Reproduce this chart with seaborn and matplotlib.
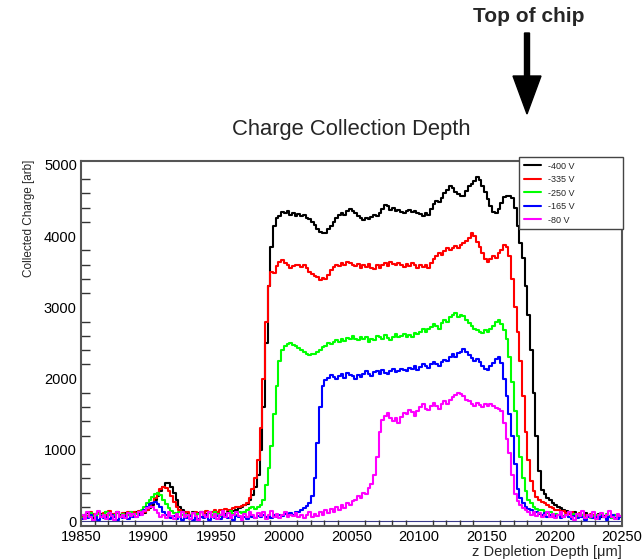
import numpy as np
import pandas as pd
import matplotlib
matplotlib.use("Agg")
import matplotlib.pyplot as plt
from matplotlib.patches import FancyArrow
from matplotlib.transforms import IdentityTransform
from matplotlib.ticker import MultipleLocator
import seaborn as sns

# Histogram binning: 2 um bins from 19850 to 20250 um
bin_width = 2
z_range = (19850, 20250)
bin_centers = np.arange(z_range[0], z_range[1], bin_width) + bin_width / 2

voltages = ["-400 V", "-335 V", "-250 V", "-165 V", "-80 V"]
line_colors = ["#000000", "#ff0000", "#00ff00", "#0000ff", "#ff00ff"]

# Collected charge per bin, one row per 40 um
charge_400 = [
    60, 80, 110, 70, 40, 90, 120, 100, 60, 130, 80, 70, 100, 120, 90, 60, 110, 80, 130, 100,
    120, 100, 140, 110, 150, 180, 230, 290, 350, 420, 480, 530, 540, 480, 390, 290, 200, 150, 120, 100,
    90, 120, 80, 110, 130, 70, 100, 120, 90, 140, 110, 80, 120, 100, 130, 150, 140, 160, 180, 200,
    220, 240, 290, 370, 480, 650, 1000, 1600, 2500, 3300, 3850, 4150, 4250, 4280, 4340, 4320, 4360, 4300, 4330, 4290,
    4310, 4280, 4300, 4260, 4240, 4200, 4160, 4100, 4060, 4040, 4050, 4100, 4150, 4200, 4260, 4300, 4330, 4300, 4350, 4380,
    4360, 4320, 4280, 4260, 4230, 4250, 4240, 4270, 4300, 4290, 4330, 4380, 4440, 4420, 4370, 4390, 4350, 4370, 4340, 4330,
    4350, 4370, 4340, 4360, 4330, 4310, 4290, 4320, 4300, 4380, 4450, 4500, 4480, 4540, 4600, 4650, 4710, 4680, 4620, 4590,
    4560, 4560, 4640, 4700, 4730, 4780, 4830, 4790, 4700, 4620, 4520, 4420, 4340, 4330, 4380, 4470, 4550, 4570, 4560, 4540,
    4400, 4150, 3900, 3700, 3300, 2900, 2400, 1800, 1200, 700, 440, 380, 330, 290, 250, 230, 200, 180, 160, 140,
    120, 110, 130, 90, 100, 80, 110, 70, 90, 60, 80, 100, 50, 70, 90, 60, 40, 80, 50, 70,
]
charge_335 = [
    50, 90, 70, 120, 100, 60, 130, 80, 110, 90, 140, 70, 100, 120, 60, 110, 90, 130, 80, 120,
    110, 140, 120, 130, 160, 200, 260, 330, 400, 450, 480, 470, 420, 350, 270, 200, 150, 120, 100, 130,
    90, 110, 130, 100, 120, 80, 140, 110, 130, 150, 120, 160, 140, 170, 160, 150, 180, 190, 200, 210,
    230, 260, 320, 450, 600, 850, 1300, 2000, 2800, 3300, 3500, 3480, 3580, 3640, 3660, 3620, 3600, 3560, 3580, 3600,
    3590, 3570, 3600, 3560, 3500, 3470, 3440, 3420, 3380, 3410, 3400, 3460, 3520, 3570, 3600, 3580, 3620, 3600, 3640, 3620,
    3600, 3580, 3610, 3560, 3590, 3570, 3610, 3550, 3540, 3590, 3560, 3600, 3620, 3580, 3640, 3610, 3590, 3630, 3600, 3570,
    3610, 3580, 3620, 3590, 3560, 3600, 3570, 3590, 3550, 3620, 3680, 3720, 3760, 3740, 3790, 3830, 3800, 3840, 3860, 3830,
    3870, 3900, 3930, 3980, 4050, 4000, 3920, 3850, 3760, 3680, 3640, 3680, 3720, 3700, 3760, 3800, 3880, 3850, 3720, 3400,
    3000, 2650, 2250, 1750, 1250, 850, 560, 420, 340, 300, 270, 250, 220, 200, 180, 160, 150, 130, 140, 110,
    100, 120, 90, 80, 110, 70, 90, 60, 100, 80, 50, 90, 70, 60, 80, 50, 70, 90, 40, 60,
]
charge_250 = [
    40, 80, 60, 110, 70, 50, 100, 90, 60, 120, 80, 40, 90, 110, 70, 100, 60, 80, 120, 90,
    100, 130, 160, 200, 250, 300, 340, 380, 390, 360, 300, 240, 180, 140, 110, 90, 120, 80, 100, 70,
    90, 110, 70, 100, 120, 80, 60, 110, 90, 130, 100, 70, 120, 90, 110, 140, 100, 80, 130, 110,
    130, 150, 180, 200, 170, 190, 220, 300, 500, 750, 1050, 1500, 1900, 2250, 2400, 2460, 2490, 2500, 2470, 2460,
    2430, 2400, 2370, 2350, 2330, 2350, 2340, 2380, 2400, 2440, 2460, 2500, 2480, 2520, 2540, 2510, 2560, 2530, 2570, 2550,
    2600, 2560, 2540, 2580, 2550, 2590, 2520, 2560, 2540, 2600, 2580, 2560, 2610, 2570, 2540, 2590, 2620, 2580, 2600, 2630,
    2580, 2610, 2590, 2640, 2620, 2660, 2700, 2650, 2690, 2720, 2760, 2740, 2700, 2780, 2820, 2800, 2860, 2900, 2920, 2870,
    2900, 2880, 2830, 2780, 2740, 2700, 2680, 2660, 2640, 2680, 2660, 2700, 2740, 2800, 2830, 2760, 2680, 2550, 2300, 1950,
    1550, 1200, 900, 600, 420, 300, 250, 200, 170, 150, 160, 130, 110, 120, 90, 100, 80, 110, 70, 90,
    60, 80, 100, 70, 50, 90, 60, 80, 40, 70, 90, 50, 80, 60, 100, 70, 40, 80, 60, 50,
]
charge_165 = [
    30, 60, 40, 90, 20, 50, 10, 70, 40, 60, 30, 80, 50, 20, 60, 40, 70, 30, 80, 50,
    60, 90, 120, 160, 200, 240, 260, 270, 240, 190, 130, 90, 60, 40, 70, 30, 60, 20, 50, 40,
    70, 10, 50, 30, 60, 40, 80, 20, 60, 40, 70, 30, 50, 80, 40, 60, 20, 70, 50, 40,
    60, 30, 80, 50, 40, 70, 60, 90, 50, 70, 40, 80, 60, 90, 70, 100, 80, 110, 90, 120,
    130, 150, 180, 210, 260, 350, 600, 1100, 1600, 1900, 1980, 2010, 2050, 2020, 1990, 2030, 2060, 2010, 2080, 2050,
    2030, 2000, 2050, 2020, 2070, 2100, 2060, 2040, 2090, 2110, 2070, 2120, 2080, 2060, 2100, 2130, 2090, 2110, 2140, 2120,
    2100, 2150, 2130, 2170, 2120, 2160, 2200, 2180, 2150, 2210, 2240, 2200, 2180, 2230, 2260, 2250, 2300, 2340, 2310, 2360,
    2380, 2410, 2380, 2330, 2290, 2250, 2270, 2240, 2180, 2140, 2120, 2170, 2220, 2280, 2310, 2220, 2000, 1750, 1500, 1200,
    800, 450, 320, 250, 200, 170, 150, 120, 130, 100, 80, 110, 60, 90, 50, 70, 90, 40, 60, 80,
    50, 30, 70, 40, 90, 60, 20, 50, 80, 40, 60, 30, 70, 50, 20, 60, 90, 40, 30, 60,
]
charge_80 = [
    80, 30, 120, 60, 20, 100, 140, 50, 90, 30, 110, 70, 20, 130, 60, 90, 40, 110, 70, 100,
    60, 120, 90, 140, 180, 200, 190, 150, 110, 60, 90, 40, 120, 70, 30, 100, 60, 130, 50, 90,
    30, 110, 70, 20, 130, 90, 50, 120, 60, 100, 30, 80, 140, 60, 110, 40, 90, 130, 70, 20,
    100, 60, 130, 80, 40, 110, 70, 120, 30, 90, 140, 60, 100, 40, 80, 120, 50, 90, 70, 110,
    50, 90, 40, 80, 120, 60, 100, 70, 130, 90, 150, 110, 170, 130, 190, 160, 220, 180, 250, 220,
    280, 300, 350, 320, 400, 380, 460, 520, 650, 900, 1250, 1420, 1480, 1520, 1450, 1400, 1440, 1380, 1460, 1520,
    1500, 1560, 1530, 1480, 1550, 1600, 1640, 1580, 1560, 1620, 1660, 1610, 1580, 1640, 1680, 1650, 1700, 1740, 1770, 1800,
    1780, 1760, 1700, 1680, 1650, 1620, 1660, 1630, 1600, 1640, 1620, 1650, 1610, 1590, 1570, 1540, 1380, 1150, 950, 650,
    380, 280, 220, 180, 150, 120, 90, 130, 70, 110, 50, 90, 130, 60, 100, 40, 80, 120, 50, 90,
    130, 60, 20, 100, 70, 140, 40, 90, 60, 120, 30, 80, 110, 50, 90, 140, 60, 30, 100, 70,
]
series = [charge_400, charge_335, charge_250, charge_165, charge_80]

x_ticks = [19850, 19900, 19950, 20000, 20050, 20100, 20150, 20200, 20250]
y_ticks = [0, 1000, 2000, 3000, 4000, 5000]

sns.set_style("white")
plt.rcParams["font.family"] = ["Liberation Sans", "DejaVu Sans"]

W, H = 642, 559
fig = plt.figure(figsize=(W / 100, H / 100), dpi=100)
ax = fig.add_axes([81 / W, 1 - 526 / H, (622 - 81) / W, (526 - 161) / H])

for vals, lab, col in zip(series, voltages, line_colors):
    df = pd.DataFrame({"z": bin_centers, "charge": vals})
    sns.histplot(data=df, x="z", weights="charge", binwidth=bin_width,
                 binrange=z_range, element="step", fill=False, color=col,
                 linewidth=1.5, label=lab, ax=ax)

ax.set_xlim(*z_range)
ax.set_ylim(-70, 5056)
ax.set_xticks(x_ticks)
ax.set_yticks(y_ticks)
ax.xaxis.set_minor_locator(MultipleLocator(10))
ax.yaxis.set_minor_locator(MultipleLocator(200))
ax.set_xlabel("")
ax.set_ylabel("")

frame_col = "#555555"
for side in ["left", "right", "top", "bottom"]:
    ax.spines[side].set_color(frame_col)
    ax.spines[side].set_linewidth(1.5)

ax.tick_params(axis="both", which="both", direction="in", colors="#333333",
               labelcolor="black", labelsize=10.5, width=1)
ax.tick_params(axis="y", which="major", length=11.5, pad=3)
ax.tick_params(axis="y", which="minor", length=6.5, left=True)
ax.tick_params(axis="x", which="major", length=8.5, pad=3)
ax.tick_params(axis="x", which="minor", length=4.3, bottom=True)

ax.axhline(0, color="#3a3a8a", linewidth=0.8, zorder=0)

# Legend box in the upper right corner
leg = ax.legend(loc="upper left",
                bbox_to_anchor=(519 / W, 1 - 229 / H, (623 - 519) / W, (229 - 157) / H),
                bbox_transform=fig.transFigure, mode="expand", fontsize=6.5,
                frameon=True, fancybox=False, edgecolor="#444444", framealpha=1,
                handlelength=1.9, handletextpad=0.8, labelspacing=0.5,
                borderpad=0.5, borderaxespad=0)
leg.get_frame().set_linewidth(1.0)
for h in leg.get_lines():
    h.set_linewidth(1.5)
leg.set_zorder(10)

fig.text(351 / W, 1 - 130 / H, "Charge Collection Depth", ha="center",
         va="center", fontsize=15.8)
fig.text(622 / W, 1 - 552 / H, "z Depletion Depth [\u03bcm]", ha="right",
         va="center", fontsize=10.5)
fig.text(29 / W, 1 - 160 / H, "Collected Charge [arb]", ha="center",
         va="top", rotation=90, fontsize=8.5)

fig.text(529 / W, 1 - 17 / H, "Top of chip", ha="center", va="center",
         fontsize=15, fontweight="bold")
arrow = FancyArrow(527, H - 33, 0, -(114 - 33), width=5, head_width=28,
                   head_length=38, length_includes_head=True,
                   color="black", transform=IdentityTransform())
fig.add_artist(arrow)

fig.savefig("out.png", dpi=100, facecolor="white")
